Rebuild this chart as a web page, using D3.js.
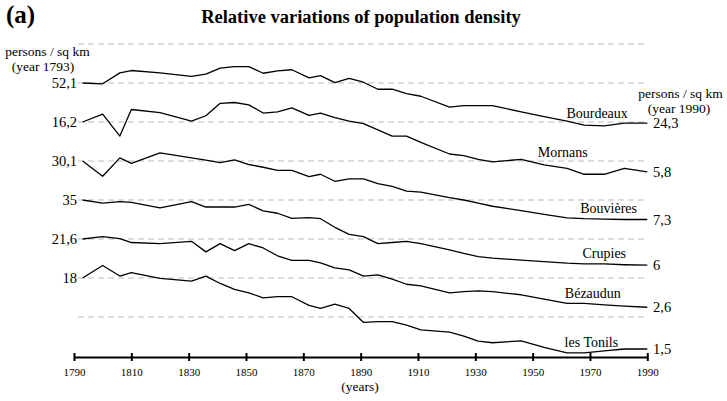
<!DOCTYPE html>
<html>
<head>
<meta charset="utf-8">
<script src="https://cdn.jsdelivr.net/npm/d3@7"></script>
<style>
  html, body { margin: 0; padding: 0; background: #fff; }
  svg text { font-family: "Liberation Serif", "Times New Roman", Times, serif; fill: #000; }
</style>
</head>
<body>
<svg id="chart" width="727" height="401"></svg>
<script>
// ---- data: census years and density relative to 1793 (%) ----
const years = [1793, 1800, 1806, 1810, 1820, 1831, 1836, 1841, 1846, 1851, 1856, 1861, 1866, 1872, 1876, 1881, 1886, 1891, 1896, 1901, 1906, 1911, 1921, 1926, 1931, 1936, 1946, 1954, 1962, 1968, 1975, 1982, 1990];

const bourdeaux = [100, 99, 113, 116, 113, 108.5, 111.5, 119, 121, 121, 112.5, 115.5, 117, 106.5, 109.5, 100.5, 106, 101, 92, 92, 86.5, 83, 69, 71, 71, 71, 63, 57, 51, 46, 45, 48.5, 48.5];
const mornans   = [100, 110, 82, 116, 112, 101, 108, 124, 125, 122, 111.5, 113, 118, 108.5, 111.5, 105.5, 101, 98, 90, 82, 82, 74, 59, 57, 52, 49, 52, 45, 40.5, 33, 33, 40.5, 36];
const bouvieres = [100, 80.5, 104, 97, 110.5, 104, 101, 98, 101.5, 95.5, 92, 88, 88, 80, 83, 74, 77, 77, 71, 67.5, 61.5, 60, 53, 50, 46, 42, 36.5, 31.5, 27, 26, 25.5, 25, 25];
const crupies   = [100, 96, 98, 97, 90, 98, 91, 91, 91, 94.5, 86, 83, 76.5, 77.5, 76, 65, 56, 53, 44, 45.5, 47, 44, 36, 31.5, 27.5, 25.5, 23, 21, 19, 18, 18, 17, 16.5];
const bezaudun  = [100, 103, 100.5, 95.5, 94, 97, 83.5, 94, 85, 94, 88.5, 78.5, 72.5, 72.5, 69.5, 63, 60.5, 52.5, 54, 48.5, 42, 40, 31, 32.5, 33.5, 32.5, 28.5, 23, 17.5, 17.5, 15.5, 14, 12.5];
const tonils    = [100, 116, 102.5, 107, 99.5, 96, 102.5, 93, 85.5, 81, 74.5, 76, 76, 65, 61, 66.5, 61, 43, 44, 44, 39.5, 33.5, 30.5, 25.5, 19, 17, 19.5, 11, 4, 4, 6.5, 9, 9];

const names       = ["Bourdeaux", "Mornans", "Bouvières", "Crupies", "Bézaudun", "les Tonils"];
const density1793 = ["52,1", "16,2", "30,1", "35", "21,6", "18"];
const density1990 = ["24,3", "5,8", "7,3", "6", "2,6", "1,5"];
const xTicks      = [1790, 1810, 1830, 1850, 1870, 1890, 1910, 1930, 1950, 1970, 1990];

const seriesList = [bourdeaux, mornans, bouvieres, crupies, bezaudun, tonils];
const rowStep = 50; // vertical offset between series, in % units

// ---- layout ----
const svg = d3.select("#chart");
svg.append("rect").attr("width", 727).attr("height", 401).attr("fill", "#fff");

const x = d3.scaleLinear().domain([1790, 1990]).range([74, 647.3]);
const y = d3.scaleLinear().domain([100, -200]).range([83, 317]);

// grid lines (one per half-row)
const gridVals = d3.range(150, -201, -rowStep);
svg.append("g").selectAll("line").data(gridVals).join("line")
  .attr("x1", 78).attr("x2", x(1990))
  .attr("y1", d => y(d)).attr("y2", d => y(d))
  .attr("stroke", "#d2d2d2").attr("stroke-width", 1.3)
  .attr("stroke-dasharray", "6,4");

// series lines
const line = d3.line().x((d, i) => x(years[i])).y(d => y(d));
seriesList.forEach((s, k) => {
  const shifted = s.map(v => v - rowStep * k);
  svg.append("path").datum(shifted)
    .attr("d", line)
    .attr("fill", "none").attr("stroke", "#000")
    .attr("stroke-width", 1.3).attr("stroke-linejoin", "round");
});

// left values (1793)
svg.append("g").selectAll("text").data(density1793).join("text")
  .attr("x", 77).attr("y", (d, k) => y(100 - rowStep * k) + 4.5)
  .attr("text-anchor", "end").attr("font-size", 14.5).text(d => d);

// right values (1990)
svg.append("g").selectAll("text").data(density1990).join("text")
  .attr("x", 653).attr("y", (d, k) => y(seriesList[k][seriesList[k].length - 1] - rowStep * k) + 5)
  .attr("font-size", 14.5).text(d => d);

// series names, placed just above each line
const nameLayout = [
  { year: 1972.5, dy: -7.5 },
  { year: 1960.5, dy: -11 },
  { year: 1976.5, dy: -6 },
  { year: 1975,   dy: -6 },
  { year: 1971,   dy: -6 },
  { year: 1970.5, dy: -5.5 }
];
function valueAt(s, yr) {
  const i = d3.bisectRight(years, yr) - 1;
  if (i >= years.length - 1) return s[s.length - 1];
  const t = (yr - years[i]) / (years[i + 1] - years[i]);
  return s[i] + t * (s[i + 1] - s[i]);
}
svg.append("g").selectAll("text").data(names).join("text")
  .attr("x", (d, k) => x(nameLayout[k].year))
  .attr("y", (d, k) => y(valueAt(seriesList[k], nameLayout[k].year) - rowStep * k) + nameLayout[k].dy)
  .attr("text-anchor", "middle").attr("font-size", 14).text(d => d);

// x axis
const axis = d3.axisBottom(x).tickValues(xTicks).tickFormat(d3.format("d")).tickSizeOuter(0);
const gx = svg.append("g").attr("transform", "translate(0,357)").call(axis);
gx.select(".domain").attr("stroke", "#000").attr("stroke-width", 2.2);
gx.selectAll(".tick line").attr("y1", -4).attr("y2", 4).attr("stroke", "#000").attr("stroke-width", 2);
gx.selectAll(".tick text").attr("y", 19).attr("dy", 0)
  .attr("font-family", "Liberation Serif, serif").attr("font-size", 11).attr("fill", "#000");

svg.append("text").attr("x", 360).attr("y", 391).attr("text-anchor", "middle")
  .attr("font-size", 13.5).text("(years)");

// headers
svg.append("text").attr("x", 6).attr("y", 23).attr("font-size", 25).attr("font-weight", "bold").text("(a)");
svg.append("text").attr("x", 361).attr("y", 23).attr("text-anchor", "middle")
  .attr("font-size", 18.5).attr("font-weight", "bold").text("Relative variations of population density");

svg.append("text").attr("x", 47.5).attr("y", 56).attr("text-anchor", "middle").attr("font-size", 13.5).text("persons / sq km");
svg.append("text").attr("x", 43).attr("y", 71).attr("text-anchor", "middle").attr("font-size", 13.5).text("(year 1793)");
svg.append("text").attr("x", 680.5).attr("y", 98).attr("text-anchor", "middle").attr("font-size", 13.5).text("persons / sq km");
svg.append("text").attr("x", 679).attr("y", 113).attr("text-anchor", "middle").attr("font-size", 13.5).text("(year 1990)");
</script>
</body>
</html>
